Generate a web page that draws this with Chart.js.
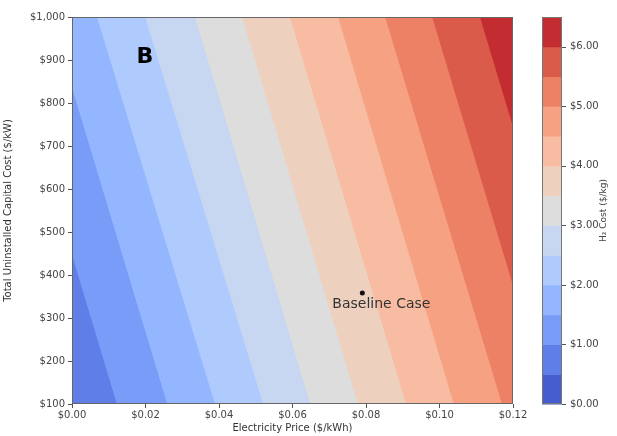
<!DOCTYPE html>
<html>
<head>
<meta charset="UTF-8">
<title>H2 cost vs electricity price and capital cost</title>
<script src="https://cdn.jsdelivr.net/npm/chart.js@4"></script>
<style>
    body { margin: 0; background: #fff; }
    canvas { display: block; }
</style>
</head>
<body>
<canvas id="chart" width="617" height="436"></canvas>
<script>
// colour bands of the H2 cost ($/kg), as on the colour bar
const levels = [0, 0.5, 1.0, 1.5, 2.0, 2.5, 3.0, 3.5, 4.0, 4.5, 5.0, 5.5, 6.0, 6.5];
// contour lines drawn inside the plot, and where each one crosses
// the bottom ($100/kW) and the top ($1,000/kW) edge, in $/kWh
const lineLevels = [0.5, 1.0, 1.5, 2.0, 2.5, 3.0, 3.5, 4.0, 4.5, 5.0, 5.5, 6.0];
const edgeAt100 = [-0.0008, 0.0122, 0.0259, 0.0389, 0.0520, 0.0648, 0.0778, 0.0909, 0.1039, 0.1170, 0.1297, 0.1427];
const edgeAt1000 = [-0.0325, -0.0195, -0.0058, 0.0068, 0.0199, 0.0335, 0.0463, 0.0593, 0.0724, 0.0852, 0.0980, 0.1110];
// coolwarm, one colour per band
const bandColors = ['#465dcf', '#5f7ee7', '#799cf8', '#94b6ff', '#afcafd', '#c7d7f1', '#dddddd',
                    '#eed0bf', '#f7bca1', '#f6a182', '#ed8165', '#db5b4a', '#c32d31'];
const priceTicks = [0, 0.02, 0.04, 0.06, 0.08, 0.10, 0.12];
const capexTicks = [100, 200, 300, 400, 500, 600, 700, 800, 900, 1000];
const costTicks = [0, 1, 2, 3, 4, 5, 6];
const baseline = { x: 0.079, y: 358 };

const FONT = 'DejaVu Sans';

const contour = {
    id: 'contour',
    beforeDatasetsDraw(chart) {
        const { ctx, chartArea: a, scales: { x, y, cb } } = chart;
        ctx.save();
        ctx.beginPath();
        ctx.rect(a.left, a.top, a.right - a.left, a.bottom - a.top);
        ctx.clip();
        ctx.fillStyle = bandColors[0];
        ctx.fillRect(a.left, a.top, a.right - a.left, a.bottom - a.top);
        const yLo = y.getPixelForValue(100), yHi = y.getPixelForValue(1000);
        const far = a.right + 50;
        // paint the area right of each contour line, higher levels on top
        for (let j = 0; j < lineLevels.length; j++) {
            ctx.fillStyle = bandColors[j + 1];
            ctx.beginPath();
            ctx.moveTo(x.getPixelForValue(edgeAt100[j]), yLo);
            ctx.lineTo(far, yLo);
            ctx.lineTo(far, yHi);
            ctx.lineTo(x.getPixelForValue(edgeAt1000[j]), yHi);
            ctx.closePath();
            ctx.fill();
        }
        ctx.restore();

        // colour bar
        const cx0 = a.right + 29, cx1 = a.right + 49;
        ctx.save();
        for (let k = 0; k < levels.length - 1; k++) {
            const top = cb.getPixelForValue(levels[k + 1]);
            const bot = cb.getPixelForValue(levels[k]);
            ctx.fillStyle = bandColors[k];
            ctx.fillRect(cx0, top, cx1 - cx0, bot - top + 0.5);
        }
        ctx.strokeStyle = '#777';
        ctx.lineWidth = 1;
        ctx.strokeRect(cx0 + 0.5, cb.top + 0.5, cx1 - cx0 - 1, cb.bottom - cb.top - 1);
        ctx.beginPath();
        costTicks.forEach(v => {
            const py = Math.round(cb.getPixelForValue(v)) + 0.5;
            ctx.moveTo(cx1, py);
            ctx.lineTo(cx1 + 4, py);
        });
        ctx.strokeStyle = '#555';
        ctx.stroke();
        ctx.fillStyle = '#444';
        ctx.font = '9px "' + FONT + '"';
        ctx.textAlign = 'center';
        ctx.textBaseline = 'middle';
        ctx.translate(604, (cb.top + cb.bottom) / 2);
        ctx.rotate(-Math.PI / 2);
        ctx.fillText('H\u2082 Cost ($/kg)', 0, 0);
        ctx.restore();
    },
    afterDatasetsDraw(chart) {
        const { ctx, chartArea: a, scales: { x, y } } = chart;
        ctx.save();
        ctx.strokeStyle = '#666';
        ctx.lineWidth = 1;
        ctx.strokeRect(a.left + 0.5, a.top + 0.5, a.right - a.left - 1, a.bottom - a.top - 1);

        ctx.fillStyle = '#000';
        ctx.font = 'bold 22px "' + FONT + '"';
        ctx.textAlign = 'center';
        ctx.textBaseline = 'middle';
        ctx.fillText('B', a.left + 73, a.top + 40);

        const px = x.getPixelForValue(baseline.x), py = y.getPixelForValue(baseline.y);
        ctx.fillStyle = '#333';
        ctx.font = '14px "' + FONT + '"';
        ctx.textAlign = 'left';
        ctx.fillText('Baseline Case', px - 30, py + 11);
        ctx.restore();
    }
};

new Chart(document.getElementById('chart'), {
    type: 'scatter',
    data: {
        datasets: [{
            data: [baseline],
            pointRadius: 2.5,
            pointBackgroundColor: '#111',
            pointBorderWidth: 0,
            yAxisID: 'y'
        }]
    },
    options: {
        responsive: false,
        animation: false,
        layout: { padding: { top: 17, left: 0, right: 0, bottom: 0 } },
        plugins: { legend: { display: false }, tooltip: { enabled: false } },
        scales: {
            x: {
                type: 'linear',
                min: 0,
                max: 0.12,
                afterBuildTicks: axis => { axis.ticks = priceTicks.map(v => ({ value: v })); },
                afterFit: axis => { axis.height = 32; },
                border: { display: false },
                grid: { drawOnChartArea: false, tickLength: 4, color: '#555' },
                ticks: {
                    color: '#444', padding: 1, maxRotation: 0,
                    font: { family: FONT, size: 10 },
                    callback: v => '$' + v.toFixed(2)
                },
                title: {
                    display: true, text: 'Electricity Price ($/kWh)', color: '#333',
                    font: { family: FONT, size: 10 }, padding: { top: 0, bottom: 2 }
                }
            },
            y: {
                type: 'linear',
                position: 'left',
                min: 100,
                max: 1000,
                afterBuildTicks: axis => { axis.ticks = capexTicks.map(v => ({ value: v })); },
                afterFit: axis => { axis.width = 72; },
                border: { display: false },
                grid: { drawOnChartArea: false, tickLength: 4, color: '#555' },
                ticks: {
                    color: '#444', padding: 3,
                    font: { family: FONT, size: 10 },
                    callback: v => '$' + v.toLocaleString('en-US')
                },
                title: {
                    display: true, text: 'Total Uninstalled Capital Cost ($/kW)', color: '#333',
                    font: { family: FONT, size: 10 }, padding: { top: 2, bottom: 2 }
                }
            },
            cb: {
                type: 'linear',
                position: 'right',
                min: 0,
                max: 6.5,
                afterBuildTicks: axis => { axis.ticks = costTicks.map(v => ({ value: v })); },
                afterFit: axis => { axis.width = 104; },
                border: { display: false },
                grid: { display: true, drawOnChartArea: false, drawTicks: true, tickLength: 55, color: 'rgba(0,0,0,0)' },
                ticks: {
                    color: '#444', padding: 2,
                    font: { family: FONT, size: 10 },
                    callback: v => '$' + v.toFixed(2)
                }
            }
        }
    },
    plugins: [contour]
});
</script>
</body>
</html>
